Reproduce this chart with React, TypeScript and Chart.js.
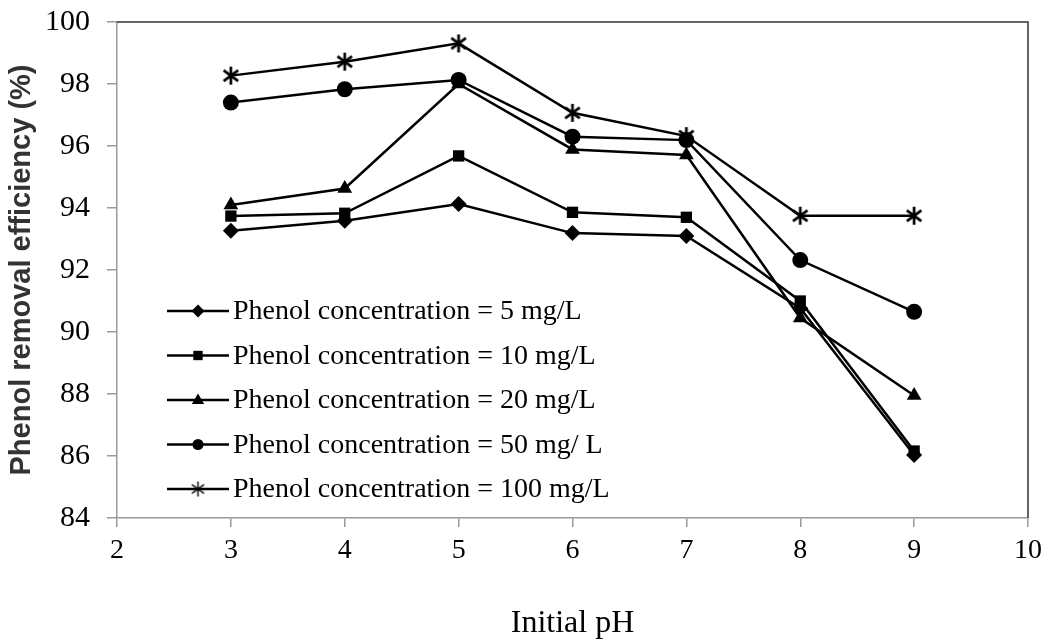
import React, { useEffect, useRef } from "react";
import { Chart, registerables } from "chart.js";

Chart.register(...registerables);

const phValues = [3, 4, 5, 6, 7, 8, 9];
const conc5 = [93.27, 93.59, 94.13, 93.19, 93.1, 90.77, 86.03];
const conc10 = [93.74, 93.83, 95.68, 93.86, 93.7, 91.0, 86.16];
const conc20 = [94.1, 94.63, 98.0, 95.89, 95.71, 90.45, 87.95];
const conc50 = [97.4, 97.83, 98.13, 96.3, 96.19, 92.32, 90.65];
const conc100 = [98.27, 98.72, 99.31, 97.07, 96.32, 93.75, 93.75];
const seriesLabels = [
  "Phenol concentration = 5 mg/L",
  "Phenol concentration = 10 mg/L",
  "Phenol concentration = 20 mg/L",
  "Phenol concentration = 50 mg/ L",
  "Phenol concentration = 100 mg/L",
];
const yTicks = [84, 86, 88, 90, 92, 94, 96, 98, 100];
const xTicks = [2, 3, 4, 5, 6, 7, 8, 9, 10];

function makeAsterisk(size: number, lw: number) {
  const c = document.createElement("canvas");
  c.width = size;
  c.height = size;
  const g = c.getContext("2d")!;
  g.strokeStyle = "#000";
  g.lineWidth = lw;
  const h = size / 2;
  const r = h - 1;
  g.beginPath();
  g.moveTo(h, h - r);
  g.lineTo(h, h + r);
  const a = Math.PI / 5;
  g.moveTo(h - r * Math.cos(a), h - r * Math.sin(a));
  g.lineTo(h + r * Math.cos(a), h + r * Math.sin(a));
  g.moveTo(h + r * Math.cos(a), h - r * Math.sin(a));
  g.lineTo(h - r * Math.cos(a), h + r * Math.sin(a));
  g.stroke();
  return c;
}

function drawMarker(ctx: CanvasRenderingContext2D, style: any, x: number, y: number, r: number) {
  ctx.save();
  ctx.fillStyle = "#000";
  ctx.beginPath();
  if (style === "rectRot") {
    ctx.moveTo(x, y - r);
    ctx.lineTo(x + r, y);
    ctx.lineTo(x, y + r);
    ctx.lineTo(x - r, y);
    ctx.closePath();
    ctx.fill();
  } else if (style === "rect") {
    const s = r * 0.72;
    ctx.rect(x - s, y - s, 2 * s, 2 * s);
    ctx.fill();
  } else if (style === "triangle") {
    ctx.moveTo(x, y - r);
    ctx.lineTo(x + r * 0.95, y + r * 0.6);
    ctx.lineTo(x - r * 0.95, y + r * 0.6);
    ctx.closePath();
    ctx.fill();
  } else if (style === "circle") {
    ctx.arc(x, y, r * 0.85, 0, Math.PI * 2);
    ctx.fill();
  } else if (style instanceof HTMLCanvasElement) {
    ctx.drawImage(style, x - style.width / 2, y - style.height / 2);
  }
  ctx.restore();
}

export default function App() {
  const ref = useRef<HTMLCanvasElement>(null);
  useEffect(() => {
    if (!ref.current) return;
    const star = makeAsterisk(20, 2.7);
    const starLegend = makeAsterisk(17, 1.4);
    const styles: any[] = ["rectRot", "rect", "triangle", "circle", star];
    const legendStyles: any[] = ["rectRot", "rect", "triangle", "circle", starLegend];
    const radii = [8, 8, 8.5, 8, 8];
    const allData = [conc5, conc10, conc20, conc50, conc100];

    const datasets = allData.map((vals, i) => ({
      label: seriesLabels[i],
      data: phValues.map((p, j) => ({ x: p, y: vals[j] })),
      borderColor: "#000",
      backgroundColor: "#000",
      pointBackgroundColor: "#000",
      pointBorderColor: "#000",
      pointBorderWidth: 0,
      borderWidth: 2.5,
      pointStyle: styles[i],
      pointRadius: radii[i],
      showLine: true,
      tension: 0,
    }));

    const framePlugin = {
      id: "frame",
      afterDraw(chart: any) {
        const { ctx, chartArea } = chart;
        ctx.save();
        ctx.strokeStyle = "#333";
        ctx.lineWidth = 1.5;
        ctx.beginPath();
        ctx.moveTo(chartArea.left, chartArea.top);
        ctx.lineTo(chartArea.right, chartArea.top);
        ctx.lineTo(chartArea.right, chartArea.bottom);
        ctx.stroke();

        // legend
        const lx = chartArea.left + 50;
        const ly0 = 311;
        const dy = 44.5;
        ctx.font = "28px 'Liberation Serif', 'Times New Roman', serif";
        ctx.textBaseline = "middle";
        ctx.fillStyle = "#000";
        for (let i = 0; i < seriesLabels.length; i++) {
          const y = ly0 + i * dy;
          ctx.strokeStyle = "#000";
          ctx.lineWidth = 2.5;
          ctx.beginPath();
          ctx.moveTo(lx, y);
          ctx.lineTo(lx + 62, y);
          ctx.stroke();
          drawMarker(ctx, legendStyles[i], lx + 31, y, 6.5);
          ctx.fillText(seriesLabels[i], lx + 66, y + 1);
        }
        ctx.restore();
      },
    };

    const serif = "'Liberation Serif', 'Times New Roman', serif";
    const chart = new Chart(ref.current, {
      type: "scatter",
      data: { datasets: datasets as any },
      plugins: [framePlugin],
      options: {
        animation: false,
        responsive: false,
        layout: { padding: { left: 0, right: 19, top: 22, bottom: 0 } },
        plugins: { legend: { display: false }, tooltip: { enabled: false } },
        scales: {
          x: {
            type: "linear",
            min: 2,
            max: 10,
            afterBuildTicks: (s: any) => {
              s.ticks = xTicks.map((v) => ({ value: v }));
            },
            afterFit: (s: any) => {
              s.height = 122;
              s.paddingLeft = 0;
              s.paddingRight = 0;
            },
            ticks: {
              color: "#000",
              font: { family: serif, size: 28 },
              padding: 7,
              autoSkip: false,
              maxRotation: 0,
            },
            grid: { drawOnChartArea: false, drawTicks: true, tickLength: 9, color: "#9a9a9a", lineWidth: 1.5 },
            border: { color: "#9a9a9a", width: 1.5 },
            title: {
              display: true,
              text: "Initial pH",
              color: "#000",
              font: { family: serif, size: 32, lineHeight: 1 },
              padding: { top: 0, bottom: 0 },
            },
          },
          y: {
            type: "linear",
            min: 84,
            max: 100,
            afterBuildTicks: (s: any) => {
              s.ticks = yTicks.map((v) => ({ value: v }));
            },
            afterFit: (s: any) => {
              s.width = 117;
              s.paddingTop = 0;
              s.paddingBottom = 0;
            },
            ticks: {
              color: "#000",
              font: { family: serif, size: 30 },
              padding: 17,
            },
            grid: { drawOnChartArea: false, drawTicks: true, tickLength: 10, color: "#9a9a9a", lineWidth: 1.5 },
            border: { color: "#9a9a9a", width: 1.5 },
            title: {
              display: true,
              text: "Phenol removal efficiency (%)",
              color: "#333",
              font: { family: "'Liberation Sans', Arial, sans-serif", size: 29, weight: "bold", lineHeight: 1.2 },
              padding: { top: 5, bottom: 0 },
            },
          },
        },
      },
    });
    return () => chart.destroy();
  }, []);

  return (
    <div style={{ position: "absolute", left: 0, top: 0, width: 1047, height: 640, background: "#fff" }}>
      <canvas ref={ref} width={1047} height={640} />
    </div>
  );
}
